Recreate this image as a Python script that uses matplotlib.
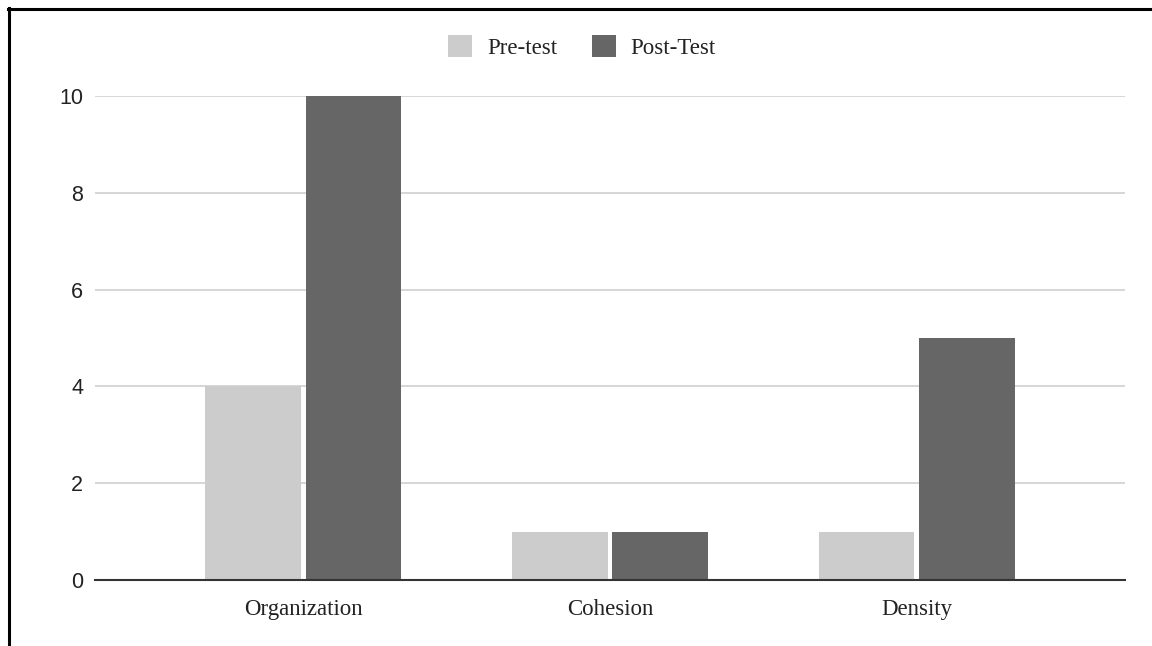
import matplotlib
matplotlib.use("Agg")
import matplotlib.pyplot as plt
from matplotlib.lines import Line2D
import numpy as np

categories = ["Organization", "Cohesion", "Density"]
series_names = ["Pre-test", "Post-Test"]
pre_test = [4, 1, 1]
post_test = [10, 1, 5]
y_ticks = [0, 2, 4, 6, 8, 10]

colors = ["#cccccc", "#666666"]

fig = plt.figure(figsize=(11.52, 6.46), dpi=100)
ax = fig.add_axes([95/1152, 1-580/646, (1125-95)/1152, (580-96)/646])

x = np.arange(len(categories))
w = 0.31
off = 0.163
b1 = ax.bar(x - off, pre_test, width=w, color=colors[0], label=series_names[0], zorder=3)
b2 = ax.bar(x + off, post_test, width=w, color=colors[1], label=series_names[1], zorder=3)

ax.set_xlim(-0.678, 2.678)
ax.set_ylim(0, 10)
ax.set_yticks(y_ticks)
ax.set_yticklabels([str(v) for v in y_ticks], family="Liberation Sans", fontsize=15.5, color="#222222")
ax.set_xticks(x)
ax.set_xticklabels(categories, family="Liberation Serif", fontsize=16.5, color="#222222")
ax.tick_params(axis="y", length=0, pad=8.5)
ax.tick_params(axis="x", length=0, pad=13.5)
ax.yaxis.grid(True, color="#cccccc", linewidth=1.1, zorder=0)
ax.set_axisbelow(True)
for s in ["top", "right", "left"]:
    ax.spines[s].set_visible(False)
ax.spines["bottom"].set_color("#333333")
ax.spines["bottom"].set_linewidth(1.5)
ax.spines["bottom"].set_zorder(4)

leg = fig.legend(handles=[b1, b2], labels=series_names, loc="center",
                 bbox_to_anchor=(582/1152, 1-47/646), ncol=2, frameon=False,
                 prop={"family": "Liberation Serif", "size": 16.5},
                 handlelength=1.05, handleheight=1.05, handletextpad=0.65,
                 columnspacing=1.5)
for t in leg.get_texts():
    t.set_color("#222222")

# screenshot border (top and left)
fig.add_artist(Line2D([8/1152, 1], [1-9/646, 1-9/646], transform=fig.transFigure, color="black", linewidth=2.2))
fig.add_artist(Line2D([9/1152, 9/1152], [0, 1-8/646], transform=fig.transFigure, color="black", linewidth=2.2))

fig.savefig("out.png", dpi=100)
